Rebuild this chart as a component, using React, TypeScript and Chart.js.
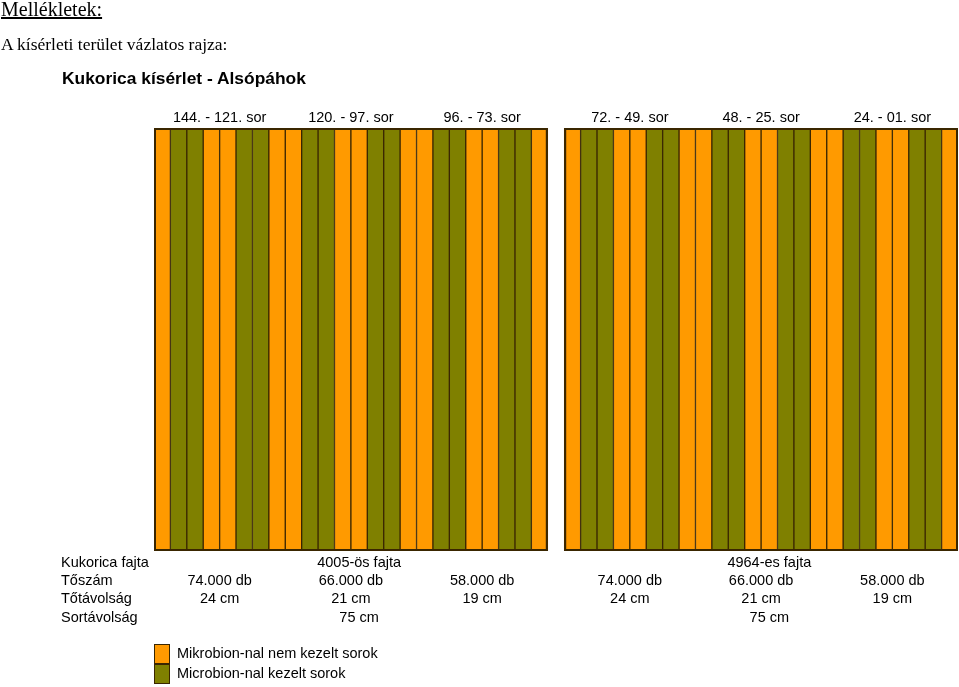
import React, { useEffect, useRef } from "react";
import { Chart, registerables } from "chart.js";

Chart.register(...registerables);

// N = Mikrobion-nal nem kezelt (orange), K = kezelt (olive); "" = gap between the two blocks
const stripeTreatment = [
  "N","K","K","N","N","K","K","N",
  "N","K","K","N","N","K","K","N",
  "N","K","K","N","N","K","K","N",
  "",
  "N","K","K","N","N","K","K","N",
  "N","K","K","N","N","K","K","N",
  "N","K","K","N","N","K","K","N",
];
const stripeValues = stripeTreatment.map((t) => (t === "" ? null : 1));
const categories = stripeTreatment.map((_, i) => String(i));

const groupLabels = ["144. - 121. sor", "120. - 97. sor", "96. - 73. sor", "72. - 49. sor", "48. - 25. sor", "24. - 01. sor"];
const varieties = ["4005-ös fajta", "4964-es fajta"];
const rowLabels = ["Kukorica fajta", "Tőszám", "Tőtávolság", "Sortávolság"];
const plantCounts = ["74.000 db", "66.000 db", "58.000 db", "74.000 db", "66.000 db", "58.000 db"];
const plantSpacing = ["24 cm", "21 cm", "19 cm", "24 cm", "21 cm", "19 cm"];
const rowSpacing = ["75 cm", "75 cm"];
const legendLabels = ["Mikrobion-nal nem kezelt sorok", "Microbion-nal kezelt sorok"];

const ORANGE = "#FF9A00";
const OLIVE = "#7F8000";
const EDGE = "#3A2600";
const FONT = '"Liberation Sans", Arial, sans-serif';

export default function App() {
  const ref = useRef<HTMLCanvasElement | null>(null);

  useEffect(() => {
    if (!ref.current) return;
    const textPlugin = {
      id: "fieldText",
      afterDatasetsDraw(chart: any) {
        const ctx = chart.ctx as CanvasRenderingContext2D;
        const xs = chart.scales.x;
        const ys = chart.scales.y;
        const half = (xs.getPixelForValue(1) - xs.getPixelForValue(0)) / 2;
        const top = ys.getPixelForValue(1);
        const bottom = ys.getPixelForValue(0);
        ctx.save();
        ctx.strokeStyle = EDGE;
        ctx.lineWidth = 2;
        [[0, 23], [25, 48]].forEach(([a, b]) => {
          const l = xs.getPixelForValue(a) - half;
          const r = xs.getPixelForValue(b) + half;
          ctx.strokeRect(l + 1, top + 1, r - l - 2, bottom - top - 2);
        });
        ctx.restore();
      },
      afterDraw(chart: any) {
        const ctx = chart.ctx as CanvasRenderingContext2D;
        const xs = chart.scales.x;
        const groupStart = [0, 8, 16, 25, 33, 41];
        const groupCenter = (g: number) => {
          const s = groupStart[g];
          return (xs.getPixelForValue(s + 3) + xs.getPixelForValue(s + 4)) / 2;
        };
        const blockCenter = (b: number) => xs.getPixelForValue(b === 0 ? 12 : 37);
        ctx.save();
        ctx.fillStyle = "#000";
        ctx.textBaseline = "middle";
        ctx.font = `14.5px ${FONT}`;
        ctx.textAlign = "center";
        groupLabels.forEach((l, g) => ctx.fillText(l, groupCenter(g), 118));

        const rowY = [563, 581, 599, 618];
        ctx.textAlign = "left";
        rowLabels.forEach((l, i) => ctx.fillText(l, 61, rowY[i]));
        ctx.textAlign = "center";
        varieties.forEach((v, b) => ctx.fillText(v, blockCenter(b), rowY[0]));
        plantCounts.forEach((v, g) => ctx.fillText(v, groupCenter(g), rowY[1]));
        plantSpacing.forEach((v, g) => ctx.fillText(v, groupCenter(g), rowY[2]));
        rowSpacing.forEach((v, b) => ctx.fillText(v, blockCenter(b), rowY[3]));

        // legend
        const lx = xs.left;
        const colors = [ORANGE, OLIVE];
        legendLabels.forEach((l, i) => {
          const y = 644 + i * 20;
          ctx.fillStyle = colors[i];
          ctx.fillRect(lx, y, 16, 20);
          ctx.strokeStyle = EDGE;
          ctx.lineWidth = 1;
          ctx.strokeRect(lx + 0.5, y + 0.5, 15, 19);
          ctx.fillStyle = "#000";
          ctx.textAlign = "left";
          ctx.fillText(l, lx + 23, y + 10);
        });
        ctx.restore();
      },
    };

    const chart = new Chart(ref.current, {
      type: "bar",
      data: {
        labels: categories,
        datasets: [
          {
            data: stripeValues,
            backgroundColor: stripeTreatment.map((t) => (t === "K" ? OLIVE : ORANGE)),
            borderColor: EDGE,
            borderWidth: 1,
            borderSkipped: false,
            barPercentage: 1,
            categoryPercentage: 1,
          },
        ],
      },
      options: {
        animation: false,
        responsive: false,
        layout: { padding: { left: 154, right: 1, top: 128, bottom: 136 } },
        plugins: { legend: { display: false }, tooltip: { enabled: false }, title: { display: false } },
        scales: {
          x: { display: false, offset: true },
          y: { display: false, min: 0, max: 1 },
        },
      },
      plugins: [textPlugin],
    });
    return () => chart.destroy();
  }, []);

  return (
    <div style={{ position: "absolute", left: 0, top: 0, width: 959, height: 687, background: "#fff" }}>
      <canvas ref={ref} width={959} height={687} style={{ position: "absolute", left: 0, top: 0 }} />
      <div style={{ position: "absolute", left: 1, top: -2, font: '20px "Liberation Serif", "Times New Roman", serif', lineHeight: "22px", textDecoration: "underline", whiteSpace: "nowrap" }}>
        Mellékletek:
      </div>
      <div style={{ position: "absolute", left: 1, top: 34, font: '17.5px "Liberation Serif", "Times New Roman", serif', lineHeight: "20px", whiteSpace: "nowrap" }}>
        A kísérleti terület vázlatos rajza:
      </div>
      <div style={{ position: "absolute", left: 62, top: 68, font: `bold 17.4px ${FONT}`, lineHeight: "20px", whiteSpace: "nowrap" }}>
        Kukorica kísérlet - Alsópáhok
      </div>
    </div>
  );
}
